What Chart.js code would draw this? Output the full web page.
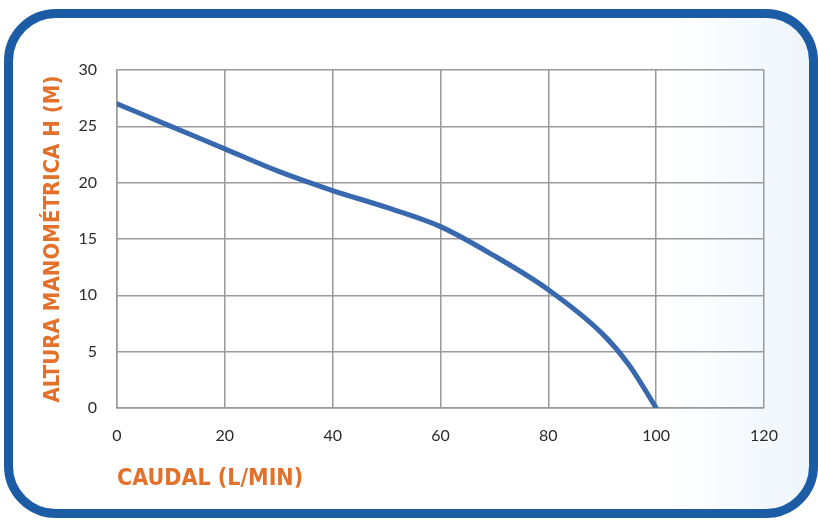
<!DOCTYPE html>
<html>
<head>
<meta charset="utf-8">
<script src="https://cdn.jsdelivr.net/npm/chart.js@4.4.0/dist/chart.umd.min.js"></script>
<style>
  html, body { margin: 0; padding: 0; background: #fff; }
  #wrap { position: relative; width: 818px; height: 526px; overflow: hidden; }
  #frame {
    position: absolute; left: 4px; top: 9px; width: 814px; height: 509px;
    border: 9px solid #1c5ca5; border-radius: 52px;
    background: linear-gradient(90deg, #ffffff 0%, #ffffff 82%, #eef5fb 100%);
    box-sizing: border-box;
  }
  canvas { position: absolute; left: 0; top: 0; }
</style>
</head>
<body>
<div id="wrap">
  <div id="frame"></div>
  <canvas id="chart" width="818" height="526"></canvas>
</div>
<script>
// caudal (L/min) vs altura manométrica (m)
const caudal = [0, 10, 20, 30, 40, 50, 60, 70, 80, 90, 95, 100];
const altura = [27, 25, 23, 21, 19.3, 17.8, 16.1, 13.5, 10.5, 6.6, 3.8, 0];

const xTicks = [0, 20, 40, 60, 80, 100, 120];
const yTicks = [0, 5, 10, 15, 20, 25, 30];

const orange = '#e3702b';
const gridColor = '#9a9a9a';

const ctx = document.getElementById('chart').getContext('2d');
new Chart(ctx, {
    type: 'line',
    data: {
        datasets: [{
            data: caudal.map((x, i) => ({ x: x, y: altura[i] })),
            borderColor: '#3868ad',
            borderWidth: 5,
            pointRadius: 0,
            fill: false,
            cubicInterpolationMode: 'monotone',
            borderCapStyle: 'round'
        }]
    },
    options: {
        responsive: false,
        animation: false,
        devicePixelRatio: 1,
        layout: { padding: { left: 0, right: 54, top: 70, bottom: 0 } },
        plugins: { legend: { display: false }, tooltip: { enabled: false } },
        scales: {
            x: {
                type: 'linear',
                min: 0, max: 120,
                afterBuildTicks: s => { s.ticks = xTicks.map(v => ({ value: v })); },
                afterFit: s => { s.height = 118; },
                grid: { color: gridColor, lineWidth: 1.5, drawTicks: false },
                border: { color: gridColor, width: 1.5 },
                ticks: { color: '#2b2b2b', padding: 18, font: { family: 'Lato', size: 16 } },
                title: {
                    display: true, text: 'CAUDAL (L/MIN)', align: 'start',
                    color: orange, padding: { top: 0, bottom: 33 },
                    font: { family: 'DejaVu Sans Condensed', weight: 'bold', size: 23 }
                }
            },
            y: {
                min: 0, max: 30,
                afterBuildTicks: s => { s.ticks = yTicks.map(v => ({ value: v })); },
                afterFit: s => { s.width = 117; },
                grid: { color: gridColor, lineWidth: 1.5, drawTicks: false },
                border: { color: gridColor, width: 1.5 },
                ticks: { color: '#2b2b2b', padding: 20, font: { family: 'Lato', size: 16 } },
                title: {
                    display: true, text: 'ALTURA MANOMÉTRICA H (M)',
                    color: orange, padding: { top: 40, bottom: 0 },
                    font: { family: 'DejaVu Sans Condensed', weight: 'bold', size: 22 }
                }
            }
        }
    }
});
</script>
</body>
</html>
